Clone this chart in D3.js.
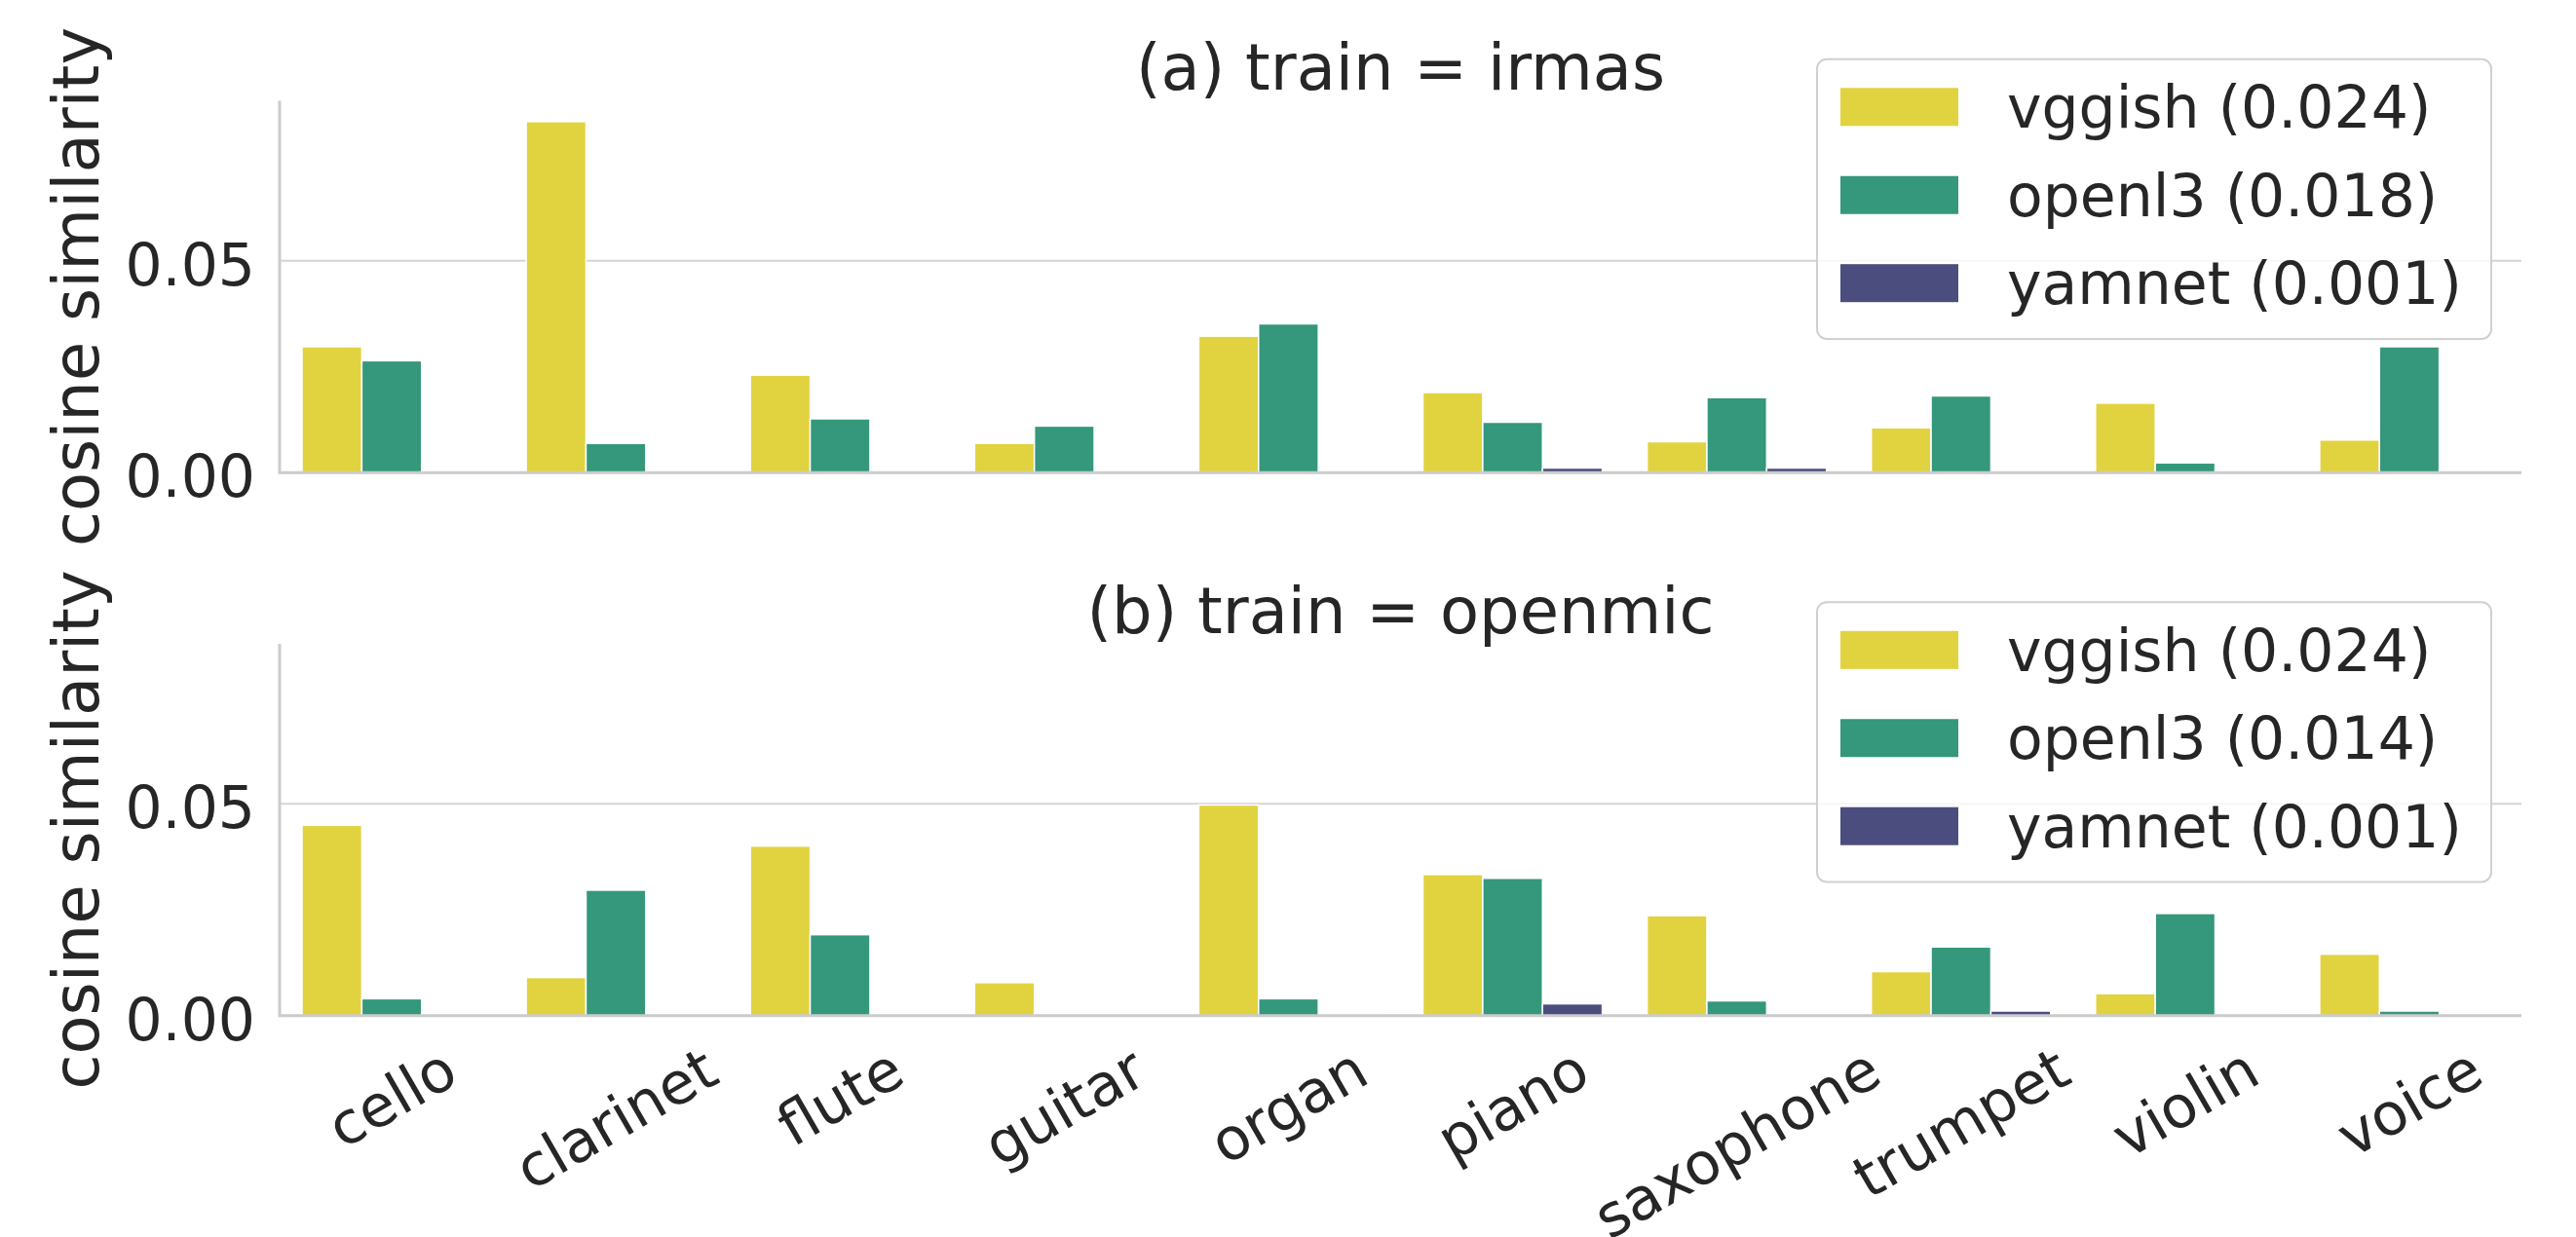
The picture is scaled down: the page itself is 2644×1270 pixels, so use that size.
<!DOCTYPE html>
<html>
<head>
<meta charset="utf-8">
<script src="https://cdn.jsdelivr.net/npm/d3@7"></script>
<style>
  body { margin: 0; background: #ffffff; }
  text { font-family: "DejaVu Sans", sans-serif; fill: #262626; }
</style>
</head>
<body>
<svg id="chart" width="2644" height="1270"></svg>
<script>
// Instruments on the x axis
const categories = ["cello", "clarinet", "flute", "guitar", "organ", "piano", "saxophone", "trumpet", "violin", "voice"];
// Embedding models (hue)
const models = ["vggish", "openl3", "yamnet"];
const modelColors = ["#e1d33f", "#35977b", "#4b4d7e"];

// (a) trained on IRMAS
const irmasVggish = [0.0297, 0.0828, 0.0230, 0.0069, 0.0322, 0.0189, 0.0073, 0.0106, 0.0164, 0.0077];
const irmasOpenl3 = [0.0264, 0.0069, 0.0127, 0.0110, 0.0351, 0.0119, 0.0177, 0.0181, 0.0023, 0.0297];
const irmasYamnet = [0.0, 0.0, 0.0, 0.0002, 0.0002, 0.0011, 0.0011, 0.0, 0.0002, 0.0];
const irmasMeans = ["0.024", "0.018", "0.001"];

// (b) trained on OpenMIC
const openmicVggish = [0.0449, 0.0090, 0.0400, 0.0078, 0.0497, 0.0333, 0.0236, 0.0104, 0.0052, 0.0145];
const openmicOpenl3 = [0.0040, 0.0296, 0.0191, 0.0, 0.0040, 0.0324, 0.0035, 0.0162, 0.0241, 0.0011];
const openmicYamnet = [0.0, 0.0, 0.0, 0.0, 0.0002, 0.0028, 0.0, 0.0011, 0.0002, 0.0];
const openmicMeans = ["0.024", "0.014", "0.001"];

// Y axis ticks
const yTicks = [0.00, 0.05];
const yMax = 0.0877;
const yLabel = "cosine similarity";

const panels = [
  { title: "(a) train = irmas", series: [irmasVggish, irmasOpenl3, irmasYamnet], means: irmasMeans, top: 103.5 },
  { title: "(b) train = openmic", series: [openmicVggish, openmicOpenl3, openmicYamnet], means: openmicMeans, top: 661 }
];

const svg = d3.select("#chart");
const left = 287, right = 2588, plotH = 381.8;
const tickFs = 60, titleFs = 65.5;

const x = d3.scaleBand().domain(categories).range([left, right]).paddingInner(0.2).paddingOuter(0.1);
const xHue = d3.scaleBand().domain(models).range([0, x.bandwidth()]);
const color = d3.scaleOrdinal().domain(models).range(modelColors);

panels.forEach((p, pi) => {
  const bottom = p.top + plotH;
  const y = d3.scaleLinear().domain([0, yMax]).range([bottom, p.top]);
  const g = svg.append("g");

  // grid lines (drawn below the bars)
  g.append("g").selectAll("line").data(yTicks).join("line")
    .attr("x1", left).attr("x2", right)
    .attr("y1", d => y(d)).attr("y2", d => y(d))
    .attr("stroke", "#d4d4d4").attr("stroke-width", 2);

  // bars
  const rows = [];
  models.forEach((m, mi) => {
    categories.forEach((c, ci) => rows.push({ cat: c, model: m, value: p.series[mi][ci] }));
  });
  g.append("g").selectAll("rect").data(rows).join("rect")
    .attr("x", d => x(d.cat) + xHue(d.model))
    .attr("width", xHue.bandwidth())
    .attr("y", d => y(d.value))
    .attr("height", d => y(0) - y(d.value))
    .attr("fill", d => color(d.model))
    .attr("stroke", "#ffffff")
    .attr("stroke-width", 1.5);

  // spines
  g.append("line").attr("x1", left).attr("x2", left).attr("y1", p.top).attr("y2", bottom + 1.5)
    .attr("stroke", "#cccccc").attr("stroke-width", 3);
  g.append("line").attr("x1", left).attr("x2", right).attr("y1", bottom).attr("y2", bottom)
    .attr("stroke", "#cccccc").attr("stroke-width", 3);

  // y tick labels
  g.append("g").selectAll("text").data(yTicks).join("text")
    .attr("x", 262).attr("y", d => y(d) + 25)
    .attr("text-anchor", "end")
    .style("font-size", tickFs + "px")
    .text(d => d3.format(".2f")(d));

  // y axis label
  g.append("text")
    .attr("transform", `translate(101,${(p.top + bottom) / 2}) rotate(-90)`)
    .attr("text-anchor", "middle")
    .style("font-size", titleFs + "px")
    .text(yLabel);

  // title
  g.append("text")
    .attr("x", (left + right) / 2).attr("y", p.top - 11.5)
    .attr("text-anchor", "middle")
    .style("font-size", titleFs + "px")
    .text(p.title);

  // legend
  const lg = g.append("g");
  lg.append("rect")
    .attr("x", 1865).attr("y", p.top - 42.8)
    .attr("width", 692).attr("height", 287.3)
    .attr("rx", 10).attr("ry", 10)
    .attr("fill", "#ffffff").attr("fill-opacity", 0.8)
    .attr("stroke", "#d0d0d0").attr("stroke-width", 2);
  models.forEach((m, mi) => {
    const cy = p.top + 6.3 + mi * 90.45;
    lg.append("rect")
      .attr("x", 1889).attr("y", cy - 19.5)
      .attr("width", 121).attr("height", 39)
      .attr("fill", color(m));
    lg.append("text")
      .attr("x", 2060).attr("y", cy + 21.5)
      .style("font-size", tickFs + "px")
      .text(`${m} (${p.means[mi]})`);
  });

  // x tick labels on the lower panel only (shared x axis)
  if (pi === panels.length - 1) {
    const ang = Math.PI / 6, pad = 19, h = tickFs * 1.164;
    g.append("g").selectAll("text").data(categories).join("text")
      .attr("text-anchor", "middle")
      .attr("dy", "0.35em")
      .style("font-size", tickFs + "px")
      .text(d => d)
      .each(function (d) {
        const w = this.getComputedTextLength();
        const hh = (w * Math.sin(ang) + h * Math.cos(ang)) / 2;
        d3.select(this).attr("transform",
          `translate(${x(d) + x.bandwidth() / 2},${bottom + pad + hh}) rotate(-30)`);
      });
  }
});
</script>
</body>
</html>
